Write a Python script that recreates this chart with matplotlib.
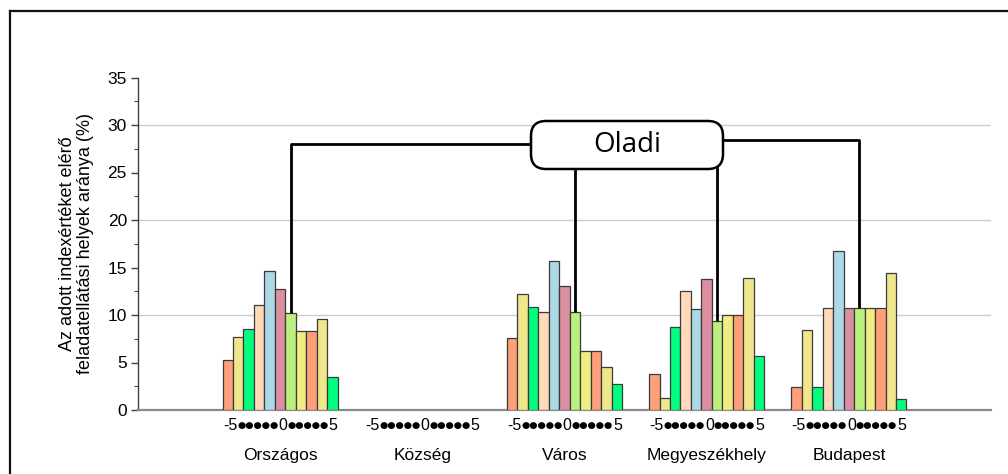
import matplotlib
matplotlib.use("Agg")
import matplotlib.pyplot as plt
import numpy as np
from matplotlib.patches import FancyBboxPatch
from matplotlib.transforms import IdentityTransform, blended_transform_factory
from matplotlib.lines import Line2D
from matplotlib.offsetbox import TextArea, HPacker, AnnotationBbox

categories = ["Országos", "Község", "Város", "Megyeszékhely", "Budapest"]
index_values = [-5, -4, -3, -2, -1, 0, 1, 2, 3, 4, 5]
tick_parts = ["-5", "●●●●●", "0", "●●●●●", "5"]

orszagos = [5.26, 7.65, 8.49, 11.05, 14.6, 12.74, 10.18, 8.3, 8.3, 9.55, 3.44]
kozseg = [0, 0, 0, 0, 0, 0, 0, 0, 0, 0, 0]
varos = [7.58, 12.18, 10.81, 10.35, 15.68, 13.02, 10.35, 6.25, 6.25, 4.49, 2.7]
megyeszekhely = [3.75, 1.26, 8.74, 12.49, 10.6, 13.8, 9.33, 9.96, 9.96, 13.85, 5.65]
budapest = [2.42, 8.42, 2.42, 10.77, 16.74, 10.77, 10.77, 10.77, 10.77, 14.39, 1.16]
series = [orszagos, kozseg, varos, megyeszekhely, budapest]

bar_colors = ["#FFA07A", "#F0E68C", "#00FF7F", "#FFDAB9", "#ADD8E6", "#DB8FA0",
              "#B9F07E", "#F0EE82", "#FFA07A", "#F0E68C", "#00FF7F"]

annot_text = "Oladi"
annot_index = 1          # index value highlighted ("Oladi")
annot_groups = [0, 2, 3, 4]

FONT = ["Liberation Sans", "DejaVu Sans"]
plt.rcParams["font.family"] = FONT

fig = plt.figure(figsize=(10.08, 4.74), dpi=100)
ax = fig.add_axes([138/1008, 1-410/474, (991-138)/1008, (410-77.5)/474])

w = 0.0737
centers = np.arange(1, len(categories) + 1)
for g, vals in enumerate(series):
    for k, v in enumerate(vals):
        if v <= 0:
            continue
        x = centers[g] + index_values[k] * w
        ax.bar(x, v, width=w, color=bar_colors[k], edgecolor="#3a3a3a",
               linewidth=0.9, zorder=3)

ax.set_xlim(0, 6)
ax.set_ylim(0, 35)
ax.set_yticks(np.arange(0, 36, 5))
ax.set_yticks(np.arange(0, 36, 2.5), minor=True)
for gy in [10, 20, 30]:
    ax.axhline(gy, color="#cccccc", linewidth=1, zorder=1)

ax.tick_params(axis="y", which="major", length=5, width=1, color="#404040",
               labelsize=12.5, pad=3)
ax.tick_params(axis="y", which="minor", length=3, width=0.8, color="#404040")
ax.set_xticks([])
for s in ["top", "right"]:
    ax.spines[s].set_visible(False)
ax.spines["left"].set_color("#404040")
ax.spines["left"].set_linewidth(1)
ax.spines["bottom"].set_color("#8a8a8a")
ax.spines["bottom"].set_linewidth(1.6)

trans = blended_transform_factory(ax.transData, ax.transAxes)
for g, name in enumerate(categories):
    parts = []
    for p in tick_parts:
        if "●" in p:
            tp = dict(fontsize=6.8, family="DejaVu Sans")
        else:
            tp = dict(fontsize=11.5, family=FONT)
        parts.append(TextArea(p, textprops=tp))
    pack = HPacker(children=parts, align="center", pad=0, sep=0)
    ab = AnnotationBbox(pack, (centers[g], -0.048), xycoords=trans,
                        frameon=False, box_alignment=(0.5, 0.5), pad=0,
                        annotation_clip=False)
    ax.add_artist(ab)
    ax.text(centers[g], -0.138, name, transform=trans, ha="center",
            va="center", fontsize=12.5, family=FONT)

ax.set_ylabel("Az adott indexértéket elérő\nfeladatellátási helyek aránya (%)",
              fontsize=13, linespacing=1.0, labelpad=10)

# annotation box (in pixel units)
H = 474
box = FancyBboxPatch((531, H - 169), 192, 48,
                     boxstyle="round,pad=0,rounding_size=15",
                     transform=IdentityTransform(), facecolor="white",
                     edgecolor="black", linewidth=1.8, zorder=10)
fig.add_artist(box)
fig.text(627/1008, 1 - 145/474, annot_text, ha="center", va="center",
         fontsize=20, family=["Open Sans", "DejaVu Sans"], zorder=11)

k = index_values.index(annot_index)
xs = {g: centers[g] + annot_index * w for g in annot_groups}
ys = {g: series[g][k] for g in annot_groups}
lk = dict(color="black", linewidth=2, zorder=8, solid_capstyle="butt")
y_left = 28.0
y_right = 28.45
y_boxbottom = 26.5
ax.plot([2.9, xs[0], xs[0]], [y_left, y_left, ys[0]], clip_on=False, **lk)
ax.plot([xs[2], xs[2]], [y_boxbottom, ys[2]], clip_on=False, **lk)
ax.plot([xs[3], xs[3]], [y_boxbottom, ys[3]], clip_on=False, **lk)
ax.plot([4.0, xs[4], xs[4]], [y_right, y_right, ys[4]], clip_on=False, **lk)

# outer frame lines (left and top)
fig.add_artist(Line2D([9.5/1008, 9.5/1008], [0, 1 - 10.5/474],
                      transform=fig.transFigure, color="#111111", linewidth=1.6))
fig.add_artist(Line2D([9.5/1008, 1], [1 - 10.5/474, 1 - 10.5/474],
                      transform=fig.transFigure, color="#111111", linewidth=1.6))

fig.savefig("out.png", dpi=100)
